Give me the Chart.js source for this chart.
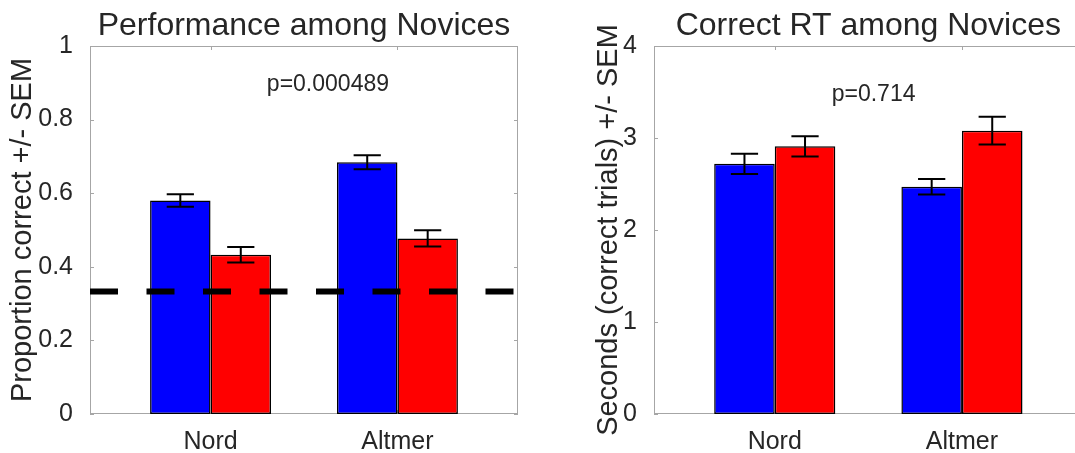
<!DOCTYPE html>
<html>
<head>
<meta charset="utf-8">
<script src="https://cdn.jsdelivr.net/npm/chart.js@4"></script>
<style>
  html, body { margin: 0; padding: 0; background: #fff; overflow: hidden; width: 1075px; height: 453px; }
  .panel { position: absolute; top: 0; height: 453px; width: 540px; }
  #leftPanel { left: 0; }
  #rightPanel { left: 564px; }
</style>
</head>
<body>
<div class="panel" id="leftPanel"><canvas id="accChart"></canvas></div>
<div class="panel" id="rightPanel"><canvas id="rtChart"></canvas></div>
<script>
// --- data ---
const groups = ['Nord', 'Altmer'];
const groupX = [1, 2];
const xRange = [0.355, 2.645];

// left: proportion correct
const accBlue = [0.580, 0.684];
const accBlueSem = [0.017, 0.019];
const accRed = [0.433, 0.477];
const accRedSem = [0.021, 0.022];
const accChance = 0.333;
const accTicks = [0, 0.2, 0.4, 0.6, 0.8, 1];

// right: correct RT
const rtBlue = [2.72, 2.47];
const rtBlueSem = [0.11, 0.085];
const rtRed = [2.91, 3.08];
const rtRedSem = [0.11, 0.15];
const rtTicks = [0, 1, 2, 3, 4];

const FONT = "'Liberation Sans', Arial, Helvetica, sans-serif";
const INK = '#262626';

// frame round the plot area, with small inward tick marks (matlab style)
const frameBox = {
    id: 'frameBox',
    beforeDatasetsDraw(chart) {
        const { ctx, chartArea: a, scales } = chart;
        ctx.save();
        ctx.strokeStyle = '#a6a6a6';
        ctx.lineWidth = 1;
        ctx.strokeRect(a.left + 0.5, a.top + 0.5, a.right - a.left - 1, a.bottom - a.top - 1);
        const len = 4;
        ctx.beginPath();
        scales.y.ticks.forEach(t => {
            const py = Math.round(scales.y.getPixelForValue(t.value)) + 0.5;
            ctx.moveTo(a.left, py); ctx.lineTo(a.left + len, py);
            ctx.moveTo(a.right, py); ctx.lineTo(a.right - len, py);
        });
        scales.x.ticks.forEach(t => {
            const px = Math.round(scales.x.getPixelForValue(t.value)) + 0.5;
            ctx.moveTo(px, a.bottom); ctx.lineTo(px, a.bottom - len);
            ctx.moveTo(px, a.top); ctx.lineTo(px, a.top + len);
        });
        ctx.stroke();
        ctx.restore();
    }
};

// +/- SEM whiskers on each bar
const semBars = {
    id: 'semBars',
    afterDatasetsDraw(chart) {
        const { ctx, scales } = chart;
        ctx.save();
        ctx.strokeStyle = '#000';
        ctx.lineWidth = 2;
        chart.data.datasets.forEach((ds, i) => {
            if (!ds.sem) return;
            const meta = chart.getDatasetMeta(i);
            meta.data.forEach((bar, j) => {
                const v = ds.data[j].y;
                const e = ds.sem[j];
                const { x, width } = bar.getProps(['x', 'width'], true);
                const yTop = scales.y.getPixelForValue(v + e);
                const yBot = scales.y.getPixelForValue(v - e);
                const half = width * 0.225;
                ctx.beginPath();
                ctx.moveTo(x, yTop); ctx.lineTo(x, yBot);
                ctx.moveTo(x - half, yTop); ctx.lineTo(x + half, yTop);
                ctx.moveTo(x - half, yBot); ctx.lineTo(x + half, yBot);
                ctx.stroke();
            });
        });
        ctx.restore();
    }
};

// p-value text placed in data coordinates
const pLabel = {
    id: 'pLabel',
    afterDatasetsDraw(chart, args, opts) {
        if (!opts.text) return;
        const { ctx, scales } = chart;
        ctx.save();
        ctx.font = `${opts.size}px ${FONT}`;
        ctx.fillStyle = INK;
        ctx.textAlign = 'center';
        ctx.textBaseline = 'middle';
        ctx.fillText(opts.text, scales.x.getPixelForValue(opts.x), scales.y.getPixelForValue(opts.y));
        ctx.restore();
    }
};

function makeChart(canvasId, cfg) {
    const toPoints = vals => vals.map((v, i) => ({ x: groupX[i], y: v }));
    const datasets = [
        { type: 'bar', data: toPoints(cfg.blue), sem: cfg.blueSem, backgroundColor: '#0000ff',
          borderColor: '#000', borderWidth: 1.5, borderSkipped: false, order: 1 },
        { type: 'bar', data: toPoints(cfg.red), sem: cfg.redSem, backgroundColor: '#ff0000',
          borderColor: '#000', borderWidth: 1.5, borderSkipped: false, order: 1 }
    ];
    if (cfg.chance !== undefined) {
        datasets.push({
            type: 'line',
            data: [{ x: xRange[0], y: cfg.chance }, { x: xRange[1], y: cfg.chance }],
            borderColor: '#000', borderWidth: 6, borderDash: [28, 28.5], borderCapStyle: 'butt',
            pointRadius: 0, order: 0
        });
    }

    return new Chart(document.getElementById(canvasId), {
        type: 'bar',
        data: { datasets },
        plugins: [frameBox, semBars, pLabel],
        options: {
            responsive: true,
            maintainAspectRatio: false,
            animation: false,
            categoryPercentage: 0.647,
            barPercentage: 1.0,
            layout: { padding: { left: 0, right: cfg.padRight, top: 0, bottom: 0 } },
            plugins: {
                legend: { display: false },
                tooltip: { enabled: false },
                title: {
                    display: true,
                    text: cfg.title,
                    fullSize: false,
                    color: INK,
                    font: { family: FONT, size: 32, weight: 'normal' },
                    padding: { top: 7, bottom: 0.6 }
                },
                pLabel: { text: cfg.pText, x: cfg.pX, y: cfg.pY, size: 23 }
            },
            scales: {
                x: {
                    type: 'linear',
                    min: xRange[0],
                    max: xRange[1],
                    offset: false,
                    grid: { display: false, offset: false },
                    border: { display: false },
                    afterBuildTicks: s => { s.ticks = groupX.map(v => ({ value: v })); },
                    afterFit: s => { s.height = 39; },
                    ticks: {
                        autoSkip: false, maxRotation: 0, padding: 5, color: INK,
                        font: { family: FONT, size: 25 },
                        callback: v => groups[groupX.indexOf(v)]
                    }
                },
                y: {
                    min: cfg.yTicks[0],
                    max: cfg.yTicks[cfg.yTicks.length - 1],
                    grid: { display: false },
                    border: { display: false },
                    afterBuildTicks: s => { s.ticks = cfg.yTicks.map(v => ({ value: v })); },
                    afterFit: s => { s.width = 90; },
                    ticks: {
                        padding: 9, color: INK,
                        font: { family: FONT, size: 25 },
                        callback: v => String(+v.toFixed(2))
                    },
                    title: {
                        display: true,
                        text: cfg.yTitle,
                        color: INK,
                        font: { family: FONT, size: 29 },
                        padding: { top: cfg.yTitlePad, bottom: 0 }
                    }
                }
            }
        }
    });
}

makeChart('accChart', {
    title: 'Performance among Novices',
    yTitle: 'Proportion correct +/- SEM',
    blue: accBlue, blueSem: accBlueSem,
    red: accRed, redSem: accRedSem,
    chance: accChance,
    yTicks: accTicks,
    pText: 'p=0.000489', pX: 1.628, pY: 0.894,
    padRight: 22,
    yTitlePad: 5.6
});

makeChart('rtChart', {
    title: 'Correct RT among Novices',
    yTitle: 'Seconds (correct trials) +/- SEM',
    blue: rtBlue, blueSem: rtBlueSem,
    red: rtRed, redSem: rtRedSem,
    yTicks: rtTicks,
    pText: 'p=0.714', pX: 1.528, pY: 3.467,
    padRight: 21.3,
    yTitlePad: 27.5
});
</script>
</body>
</html>
